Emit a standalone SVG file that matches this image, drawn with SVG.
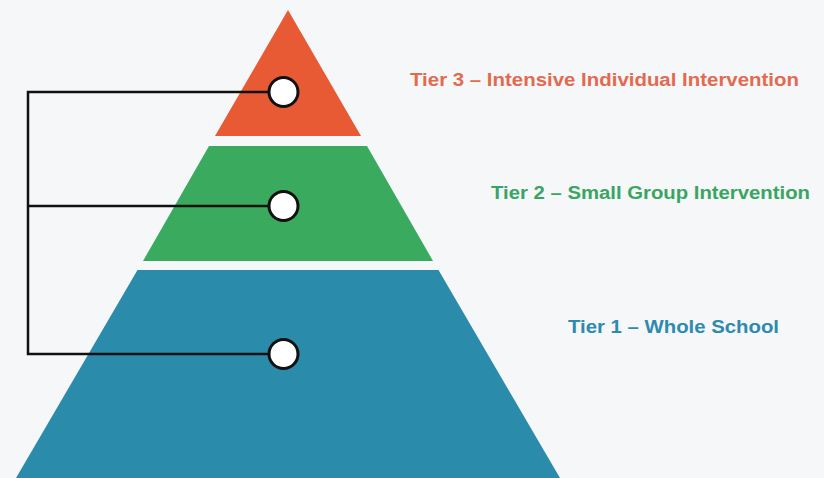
<svg xmlns="http://www.w3.org/2000/svg" width="824" height="478" viewBox="0 0 824 478">
<style>
.lbl{font-family:"Liberation Sans",Arial,sans-serif;font-weight:bold;font-size:18px}
.dot{fill:#fff;stroke:#111;stroke-width:3}
.conn{fill:none;stroke:#111;stroke-width:2.5}
</style>
<rect width="824" height="478" fill="#f6f7f9"/>
<g id="tier1">
<polygon points="137.5,270 438.5,270 560,478 16,478" fill="#2a8bab"/>
<circle class="dot" cx="283.5" cy="354" r="14.5"/>
<text class="lbl" x="568" y="333" fill="#2e8aae" textLength="211" lengthAdjust="spacingAndGlyphs">Tier 1 – Whole School</text>
</g>
<g id="tier2">
<polygon points="209,146 367,146 433,261 143,261" fill="#3aab5e"/>
<circle class="dot" cx="283.5" cy="206" r="14.5"/>
<text class="lbl" x="491" y="199" fill="#3aa562" textLength="319" lengthAdjust="spacingAndGlyphs">Tier 2 – Small Group Intervention</text>
</g>
<g id="tier3">
<polygon points="288,10 361,136 215,136" fill="#e85a33"/>
<circle class="dot" cx="283.5" cy="92" r="14.5"/>
<text class="lbl" x="410" y="86" fill="#e36a4f" textLength="389" lengthAdjust="spacingAndGlyphs">Tier 3 – Intensive Individual Intervention</text>
</g>
<g id="connectors">
<path class="conn" d="M269,92 H28 V354 H269 M28,206 H269"/>
</g>
</svg>
